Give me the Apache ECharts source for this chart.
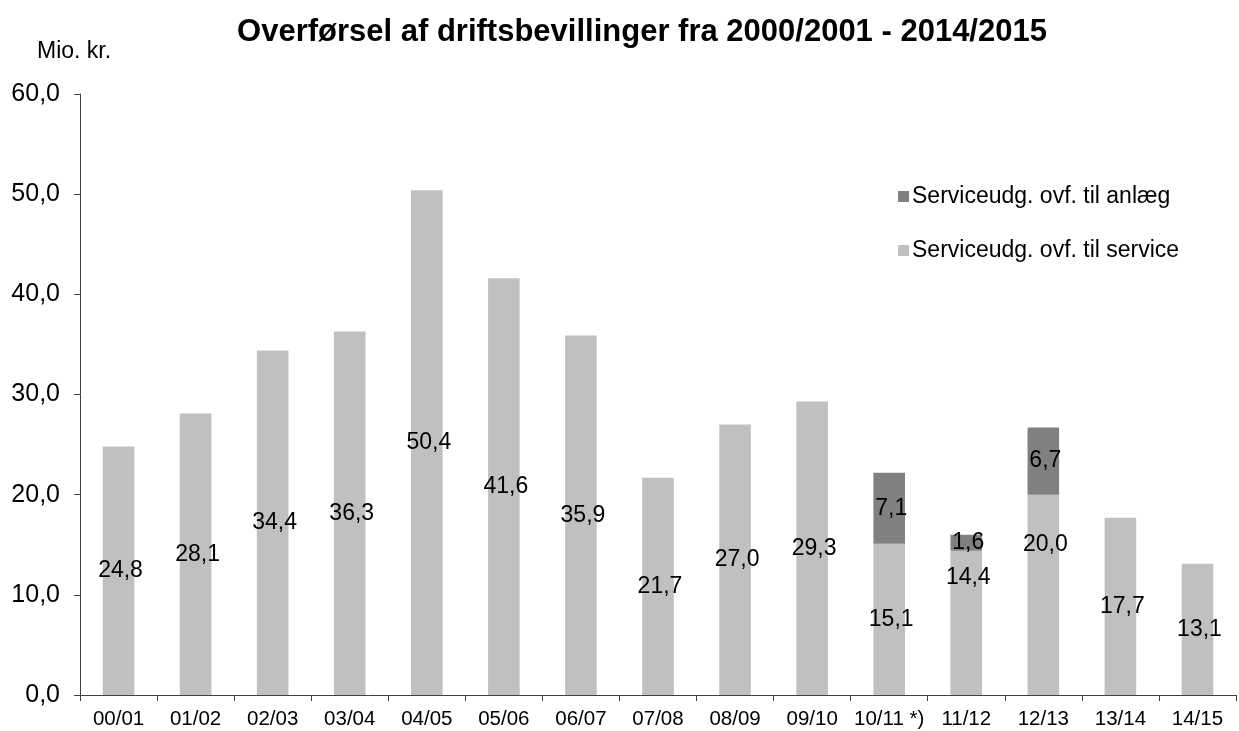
<!DOCTYPE html>
<html>
<head>
<meta charset="utf-8">
<script src="https://cdn.jsdelivr.net/npm/echarts@6/dist/echarts.min.js"></script>
<style>
html,body{margin:0;padding:0;background:#fff;}
#chart{width:1239px;height:731px;}
</style>
</head>
<body>
<div id="chart"></div>
<script>
const categories = ['00/01','01/02','02/03','03/04','04/05','05/06','06/07','07/08','08/09','09/10','10/11 *)','11/12','12/13','13/14','14/15'];
const serviceValues = [24.8, 28.1, 34.4, 36.3, 50.4, 41.6, 35.9, 21.7, 27.0, 29.3, 15.1, 14.4, 20.0, 17.7, 13.1];
const anlaegValues = [null, null, null, null, null, null, null, null, null, null, 7.1, 1.6, 6.7, null, null];
const seriesNames = ['Serviceudg. ovf. til anlæg', 'Serviceudg. ovf. til service'];
const yTicks = [0, 10, 20, 30, 40, 50, 60];
const titleText = 'Overførsel af driftsbevillinger fra 2000/2001 - 2014/2015';
const yUnit = 'Mio. kr.';

const fmt = v => Number(v).toFixed(1).replace('.', ',');
const FONT = '"Liberation Sans", Arial, sans-serif';

// label offsets for two labels moved in the original
const labelOffsets = {11: [2, -45], 12: [2, -50]};

const serviceData = serviceValues.map((v, i) => {
  const d = {value: v};
  d.label = {offset: labelOffsets[i] || [2, 0]};
  return d;
});
const anlaegData = anlaegValues.map(v => v == null ? '-' : {value: v, label: {offset: [2, 0]}});

const chart = echarts.init(document.getElementById('chart'), null, {renderer: 'canvas'});
chart.setOption({
  animation: false,
  backgroundColor: '#ffffff',
  title: {
    text: titleText,
    left: 637, textAlign: 'center', top: 12,
    textStyle: {fontFamily: FONT, fontSize: 31, fontWeight: 'bold', color: '#000'}
  },
  graphic: [{
    type: 'text', left: 37, top: 40,
    style: {text: yUnit, font: '23px ' + FONT, fill: '#000'}
  }],
  legend: {
    data: seriesNames,
    orient: 'vertical',
    left: 893, top: 180,
    itemWidth: 11, itemHeight: 11, itemGap: 31,
    icon: 'rect',
    textStyle: {fontFamily: FONT, fontSize: 23, color: '#000', padding: [0, 0, 0, -2]}
  },
  grid: {left: 80, right: 3, top: 94, bottom: 36, containLabel: false},
  xAxis: {
    type: 'category',
    data: categories,
    axisLine: {lineStyle: {color: '#404040', width: 1}},
    axisTick: {show: true, length: 6, alignWithLabel: false, lineStyle: {color: '#404040'}},
    axisLabel: {fontFamily: FONT, fontSize: 20.5, color: '#000', margin: 14, interval: 0}
  },
  yAxis: {
    type: 'value',
    min: 0, max: 60, interval: 10,
    axisLine: {show: true, lineStyle: {color: '#404040', width: 1}},
    axisTick: {show: true, length: 6, lineStyle: {color: '#404040'}},
    splitLine: {show: false},
    axisLabel: {fontFamily: FONT, fontSize: 25, color: '#000', margin: 20, formatter: v => fmt(v)}
  },
  series: [
    {
      name: seriesNames[1],
      type: 'bar', stack: 'total',
      barWidth: '41%',
      itemStyle: {color: '#c0c0c0'},
      label: {show: true, position: 'inside', fontFamily: FONT, fontSize: 23, color: '#000', formatter: p => fmt(p.value)},
      data: serviceData
    },
    {
      name: seriesNames[0],
      type: 'bar', stack: 'total',
      barWidth: '41%',
      itemStyle: {color: '#808080'},
      label: {show: true, position: 'inside', fontFamily: FONT, fontSize: 23, color: '#000', formatter: p => fmt(p.value)},
      data: anlaegData
    }
  ]
});
</script>
</body>
</html>
